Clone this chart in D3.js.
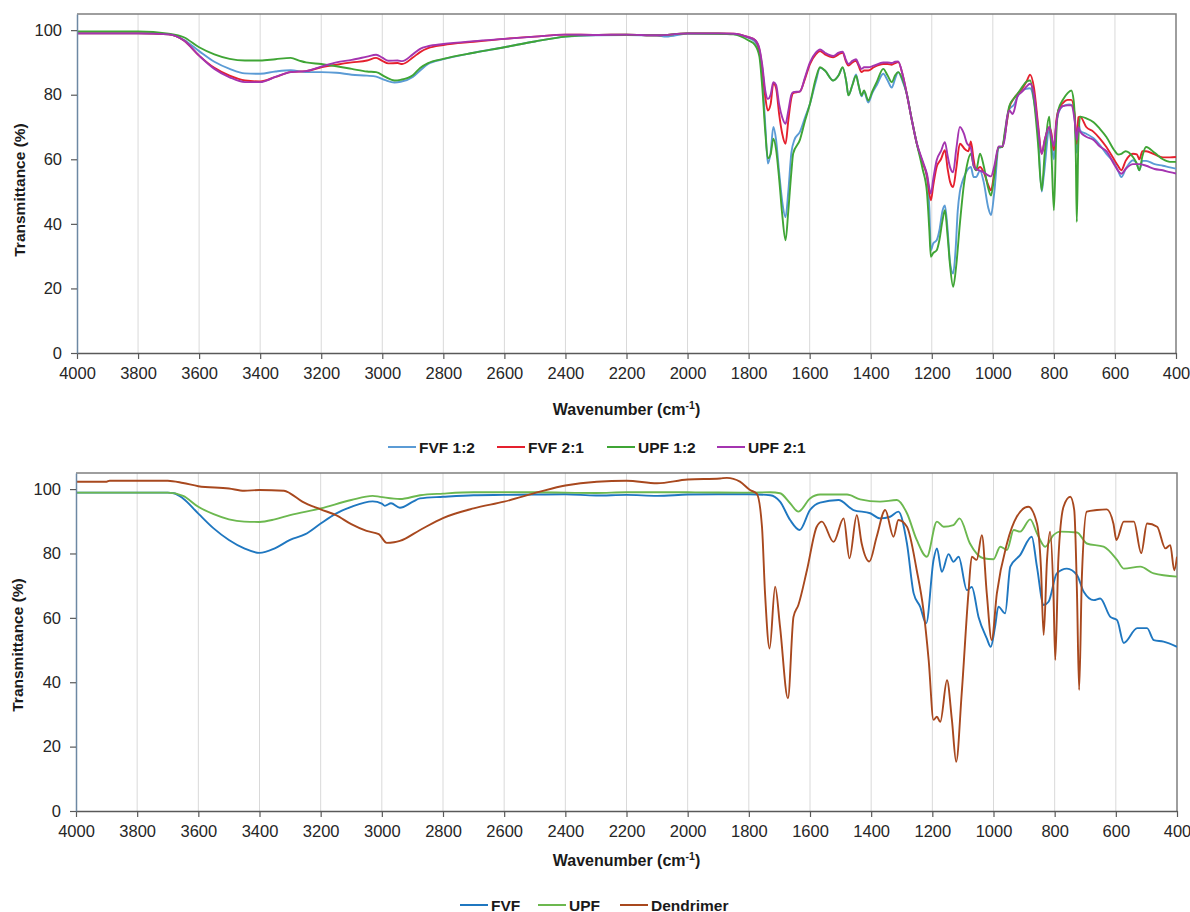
<!DOCTYPE html>
<html><head><meta charset="utf-8">
<script src="https://cdn.jsdelivr.net/npm/d3@7"></script>
<style>body{margin:0;background:#fff;} svg{display:block;font-family:"Liberation Sans",Arial,Helvetica,sans-serif;}</style>
</head><body>
<svg id="chart" width="1190" height="912"></svg>
<script>
// ---------- data ----------
const xTicks = [4000,3800,3600,3400,3200,3000,2800,2600,2400,2200,2000,1800,1600,1400,1200,1000,800,600,400];
const yTicks = [0,20,40,60,80,100];
const topLabels = ["FVF 1:2","FVF 2:1","UPF 1:2","UPF 2:1"];
const bottomLabels = ["FVF","UPF","Dendrimer"];

// Top panel: [wavenumber, transmittance]
const fvf12 = [[4000,99.0],[3900,99.0],[3800,99.0],[3700,98.7],[3650,97],[3600,93.5],[3550,90.2],[3500,88.0],[3450,86.6],[3400,86.5],[3350,87.2],[3300,87.6],[3250,87.0],[3200,87.0],[3150,86.8],[3100,86.2],[3050,85.9],[3020,85.6],[2990,84.5],[2960,83.8],[2940,84.0],[2900,85.5],[2876,87.5],[2850,89.5],[2800,91.0],[2700,93.0],[2600,94.7],[2500,96.5],[2400,98.0],[2300,98.4],[2200,98.5],[2100,98.3],[2070,98.0],[2000,98.9],[1900,98.9],[1850,98.8],[1800,97.6],[1780,96.5],[1765,93.5],[1755,85],[1745,70],[1737,58.7],[1728,62],[1719,70],[1710,66],[1700,56],[1690,47],[1679,42.1],[1670,50],[1660,62],[1650,66],[1632,68.5],[1615,73],[1599,77.2],[1580,84],[1566,88.3],[1550,87.5],[1523,84.4],[1505,86],[1492,88.3],[1480,84],[1473,79.8],[1460,83],[1448,86.3],[1440,83],[1430,79.5],[1422,81],[1408,77.6],[1395,80.5],[1380,83],[1359,86.5],[1345,84.5],[1331,82.2],[1320,85],[1310,87],[1295,84],[1282,80.3],[1265,72],[1249,64.8],[1230,59],[1216,54.5],[1208,45],[1203,31.8],[1195,34],[1184,34.9],[1175,38],[1165,44],[1157,45.7],[1148,38],[1140,28],[1130,24.6],[1122,32],[1115,44],[1108,50],[1100,53],[1090,55.5],[1072,57.6],[1063,54.5],[1055,54.5],[1042,56.5],[1030,53],[1015,45],[1006,42.7],[995,50],[981,63.5],[969,63.8],[960,68],[946,75.5],[930,77],[919,79.5],[903,81.5],[878,82],[865,78],[852,68],[840,50],[833,55],[815,69],[808,65],[800,60],[792,71],[786,74],[770,76.5],[750,77],[740,76.7],[732,73],[725,62],[720,72],[714,68.9],[694,67.9],[670,66.5],[650,64.5],[628,61.7],[600,58.5],[590,56.5],[579,54.5],[565,57],[541,59.7],[528,58.5],[520,56.6],[510,59.5],[498,59.5],[470,58.5],[443,58],[420,57.5],[400,57.1]];

const fvf21 = [[4000,99.0],[3800,99.0],[3700,98.7],[3650,96.8],[3600,92.1],[3550,88.3],[3500,85.9],[3450,84.4],[3400,84.1],[3350,85.5],[3300,87.0],[3250,87.3],[3200,88.5],[3150,89.3],[3100,90.0],[3050,90.6],[3020,91.4],[3000,90.5],[2980,89.7],[2950,89.8],[2935,89.5],[2900,91.5],[2876,93.2],[2850,94.4],[2800,95.4],[2700,96.4],[2600,97.3],[2500,98.0],[2400,98.6],[2300,98.5],[2200,98.6],[2100,98.4],[2000,99.0],[1900,99.0],[1850,98.9],[1800,97.8],[1780,97],[1765,94],[1755,88],[1745,79],[1737,75.1],[1728,77],[1719,83.5],[1710,82],[1700,74],[1690,68],[1679,64.8],[1670,72],[1660,79],[1654,80.5],[1632,81],[1615,85],[1599,89.5],[1580,92.5],[1566,93.5],[1550,92.5],[1523,91.6],[1505,92.5],[1492,93.0],[1480,90],[1473,89],[1460,90],[1448,90.5],[1440,89],[1430,87],[1422,87.5],[1408,87.5],[1390,88.5],[1359,89.5],[1345,89.5],[1331,89.3],[1320,89.8],[1310,90.1],[1295,86],[1282,80.3],[1265,72],[1249,64.8],[1230,59],[1216,55],[1203,47.3],[1195,52],[1184,57.6],[1170,60],[1157,62.8],[1148,57],[1140,53],[1130,51.4],[1120,57],[1108,64.8],[1090,63],[1080,62.5],[1072,65.5],[1063,60],[1055,56.6],[1042,57.6],[1030,56],[1015,52],[1006,50.4],[995,56],[981,63.8],[969,63.8],[960,68],[946,76],[930,79],[919,80.3],[903,82],[890,84],[878,86.2],[865,82],[852,71],[840,61.7],[830,66],[815,70],[808,68],[800,62.8],[792,72],[786,75],[770,77.5],[755,78.4],[743,78.4],[732,74],[725,64.8],[720,73],[714,73.2],[694,70],[670,68.5],[650,66.5],[628,63.8],[600,59.5],[590,58],[579,56.6],[565,59.5],[541,61.7],[528,61.5],[520,60],[510,62.5],[498,62.5],[470,61.5],[443,60.6],[420,60.6],[400,60.7]];

const upf12 = [[4000,99.6],[3800,99.6],[3700,98.9],[3650,97.8],[3600,94.7],[3550,92.5],[3500,91.1],[3450,90.6],[3400,90.6],[3350,91.0],[3300,91.4],[3270,90.5],[3250,90.0],[3200,89.5],[3150,88.8],[3100,88.0],[3050,87.2],[3020,87.0],[2990,85.5],[2960,84.4],[2940,84.6],[2900,86],[2876,88.3],[2850,89.8],[2800,91.1],[2700,93],[2600,94.7],[2500,96.5],[2400,98.0],[2300,98.5],[2200,98.6],[2100,98.4],[2000,99.0],[1900,98.9],[1850,98.7],[1800,96.8],[1780,95.5],[1765,92],[1755,82],[1745,68],[1737,60.3],[1728,61.5],[1719,66.4],[1710,63],[1700,54],[1690,43],[1679,34.9],[1670,44],[1660,56],[1654,61.8],[1632,66],[1615,72],[1599,77.2],[1580,85],[1566,88.5],[1550,87.5],[1523,84.4],[1505,86],[1492,88.5],[1480,84],[1473,79.8],[1460,83],[1448,85.9],[1440,83],[1430,79.8],[1422,81.3],[1408,78.2],[1395,81],[1380,84],[1359,88.0],[1345,86],[1331,83.9],[1320,86],[1310,87.0],[1295,84.5],[1282,80.3],[1265,72],[1249,64.8],[1230,57],[1216,50],[1208,38],[1203,29.8],[1195,31],[1184,31.8],[1175,35],[1165,41],[1157,44.2],[1148,36],[1140,27],[1130,20.5],[1120,27],[1108,40],[1095,52],[1085,58],[1072,61.7],[1063,58],[1055,56.6],[1042,61.7],[1030,58],[1015,51],[1006,48.8],[995,55],[981,63.8],[969,63.8],[960,69],[946,76.5],[930,79],[919,80.3],[903,82.5],[890,84],[878,84.4],[865,78],[852,65],[840,50.4],[830,62],[815,73.2],[808,62],[800,44.2],[792,68],[786,75.1],[770,78.5],[755,80.5],[743,81.3],[735,78],[728,60],[725,40.6],[720,65],[714,73.2],[694,72.7],[670,71.5],[650,69.5],[628,66.9],[600,62.5],[590,61.5],[579,61.7],[565,62.5],[541,60.7],[530,59],[520,56.6],[510,61],[498,63.8],[470,62],[443,60],[420,59.2],[400,59.2]];

const upf21 = [[4000,99.0],[3800,99.0],[3700,98.7],[3650,96.8],[3600,92.1],[3550,88.0],[3500,85.4],[3450,83.9],[3400,83.9],[3350,85.5],[3300,87.0],[3250,87.3],[3200,88.7],[3150,90.0],[3100,90.8],[3050,91.8],[3020,92.4],[3000,91.5],[2980,90.5],[2950,90.6],[2935,90.4],[2900,92.5],[2876,94.2],[2850,95.0],[2800,95.7],[2700,96.6],[2600,97.3],[2500,98.0],[2400,98.6],[2300,98.5],[2200,98.6],[2100,98.4],[2000,99.0],[1900,99.0],[1850,98.9],[1800,97.8],[1780,97],[1765,94.5],[1755,89],[1745,81],[1737,78.7],[1728,80],[1719,83.9],[1710,83],[1700,77],[1690,73],[1679,71.0],[1670,75],[1660,80],[1654,80.8],[1632,81],[1615,85.5],[1599,90],[1580,93],[1566,94],[1550,93],[1523,92],[1505,93],[1492,93.3],[1480,90.5],[1473,89.5],[1460,90.5],[1448,91],[1440,89.5],[1430,88],[1422,88.5],[1408,88.5],[1390,89],[1359,90],[1345,90],[1331,89.8],[1320,90.2],[1310,90.3],[1295,86],[1282,80.3],[1265,72],[1249,65],[1230,59.5],[1216,55.5],[1203,49.4],[1195,54],[1184,59.7],[1170,62.5],[1157,65.3],[1148,61],[1140,57.5],[1130,56],[1120,63],[1108,70.0],[1095,68],[1085,65],[1072,63.5],[1063,58],[1055,57],[1042,56.5],[1030,56],[1015,55],[1006,54.7],[995,58],[981,64],[969,64],[960,67],[955,72],[946,75.1],[935,74],[930,75.1],[919,79.5],[903,81],[890,82.5],[878,83.4],[865,80],[852,70],[840,61.7],[830,66],[815,70],[808,67],[800,64],[792,71],[786,74.5],[770,76.5],[755,76.7],[743,76.7],[732,72],[725,66],[720,70],[714,68.5],[694,67],[670,66],[650,64],[628,62.5],[600,58],[590,56.5],[579,55.5],[565,57],[541,58.5],[520,58.5],[498,58],[470,57],[443,56.6],[420,56],[400,55.6]];

// Bottom panel
const fvf = [[4000,98.9],[3900,98.9],[3800,98.9],[3700,98.9],[3680,98.7],[3650,97.1],[3600,92.4],[3550,87.8],[3500,84.2],[3450,81.6],[3400,80.2],[3350,81.6],[3300,84.2],[3250,86.0],[3200,89.3],[3150,92.4],[3100,94.5],[3030,96.2],[3000,95.5],[2990,94.8],[2970,95.6],[2941,94.2],[2900,96],[2875,97.1],[2800,97.6],[2700,98.1],[2600,98.2],[2500,98.3],[2400,98.4],[2300,98.0],[2200,98.2],[2100,97.9],[2000,98.3],[1900,98.4],[1800,98.4],[1730,98.1],[1698,96.1],[1665,90.4],[1634,87.3],[1600,93.5],[1567,95.8],[1507,96.6],[1458,93.5],[1403,92.5],[1371,90.9],[1338,91.4],[1311,93],[1283,83.1],[1261,67.6],[1240,63.5],[1220,58.3],[1196,78],[1185,81.6],[1169,74.3],[1147,79.8],[1131,77.4],[1114,79],[1087,68.6],[1071,69.6],[1049,60.3],[1022,53.6],[1009,51],[995,57.2],[984,63.5],[962,61.4],[945,75.9],[913,79.5],[875,85.2],[858,75.9],[836,64],[820,65],[793,73.8],[760,75.3],[727,73.3],[705,68.1],[672,65.5],[651,66],[618,60.3],[596,59.3],[574,52.2],[530,56.8],[498,56.8],[476,53.1],[444,52.6],[400,51]];

const upf = [[4000,98.9],[3700,98.9],[3650,97.9],[3600,94.5],[3550,92.2],[3500,90.6],[3450,89.9],[3400,89.8],[3350,90.6],[3300,91.9],[3200,94.0],[3100,96.6],[3030,97.9],[3006,97.6],[2941,96.9],[2875,98.1],[2800,98.6],[2700,99],[2500,99],[2300,98.8],[2200,99],[2000,99],[1800,98.9],[1730,99],[1698,98.7],[1665,95.6],[1638,93],[1600,97.1],[1567,98.3],[1479,98.3],[1436,96.8],[1371,96.1],[1316,96.6],[1283,92.5],[1251,84.2],[1218,79],[1185,89.9],[1163,88.3],[1131,88.8],[1111,90.9],[1077,83.1],[1033,78.5],[1000,78.2],[978,82.1],[956,81.1],[934,87.3],[913,86.8],[880,90.6],[858,86.3],[831,82.1],[804,85.7],[782,86.8],[727,86.5],[695,83.1],[640,82.1],[596,78],[574,75.3],[520,75.9],[476,73.8],[400,72.8]];

const dendrimer = [[4000,102.3],[3900,102.3],[3890,102.6],[3700,102.6],[3650,101.9],[3600,100.9],[3500,100.2],[3450,99.5],[3400,99.7],[3320,99.5],[3300,98.7],[3260,96.1],[3200,93.7],[3150,91.9],[3100,89.1],[3050,87],[3010,86],[2984,83.3],[2960,83.5],[2941,83.9],[2875,87.3],[2800,91],[2700,94],[2600,96.1],[2483,99.2],[2400,101.1],[2297,102.3],[2200,102.6],[2100,101.8],[2000,103],[1894,103.3],[1872,103.5],[1829,102.3],[1796,99.7],[1774,98.6],[1757,88.3],[1747,67.6],[1732,50.5],[1714,69.7],[1698,57.3],[1672,35],[1654,60.3],[1638,64],[1610,74.8],[1578,88.3],[1561,89.9],[1523,83.6],[1490,90.9],[1471,78.5],[1447,91.9],[1431,83.1],[1406,77.5],[1382,85.2],[1354,93.5],[1327,85.2],[1311,90.4],[1283,88.3],[1251,74.8],[1229,62.4],[1212,46.9],[1196,28.3],[1185,29.3],[1174,27.7],[1152,40.6],[1136,28.3],[1122,15.3],[1104,36.5],[1082,67.6],[1071,79],[1055,78],[1038,85.7],[1022,67.6],[1006,53.1],[989,67.6],[956,83.1],[924,91.4],[886,94.5],[858,89.3],[845,75.9],[836,54.7],[825,78],[815,86.8],[804,67.6],[798,46.9],[788,78],[771,94.5],[749,97.6],[736,93.5],[727,67.6],[720,37.6],[711,72.8],[695,93],[662,93.5],[630,93.7],[608,89.3],[598,84.2],[574,89.9],[541,89.9],[517,80.1],[498,89.3],[465,88.3],[438,81.6],[422,82.6],[409,74.8],[400,79]];

// ---------- drawing ----------
const svg = d3.select("#chart");
svg.append("rect").attr("width",1190).attr("height",912).attr("fill","#fff");
const FONT = '"Liberation Sans",Arial,sans-serif';

function panel(cfg){
  const x = d3.scaleLinear().domain([4000,400]).range([cfg.left,cfg.right]);
  const y = d3.scaleLinear().domain([0,105]).range([cfg.bottom,cfg.top]);
  const g = svg.append("g");
  g.selectAll("line.grid").data(xTicks.filter(t=>t!==4000&&t!==400)).join("line")
    .attr("x1",d=>x(d)).attr("x2",d=>x(d)).attr("y1",cfg.top).attr("y2",cfg.bottom)
    .attr("stroke","#d9d9d9").attr("stroke-width",1);
  g.append("path").attr("d",`M${cfg.left},${cfg.top}H${cfg.right}V${cfg.bottom}`)
    .attr("fill","none").attr("stroke","#7f7f7f").attr("stroke-width",1.5);
  const clipId = "clip"+cfg.id;
  svg.append("clipPath").attr("id",clipId).append("rect")
    .attr("x",cfg.left).attr("y",cfg.top).attr("width",cfg.right-cfg.left).attr("height",cfg.bottom-cfg.top);
  const line = d3.line().x(d=>x(d[0])).y(d=>y(d[1])).curve(d3.curveMonotoneX);
  const lg = g.append("g").attr("clip-path",`url(#${clipId})`);
  cfg.series.forEach(s=>{
    lg.append("path").datum(s.data).attr("d",line).attr("fill","none")
      .attr("stroke",s.color).attr("stroke-width",1.9).attr("stroke-linejoin","round");
  });
  const xa = g.append("g").attr("transform",`translate(0,${cfg.bottom})`)
    .call(d3.axisBottom(x).tickValues(xTicks).tickFormat(d3.format("d")).tickSize(6).tickSizeOuter(0).tickPadding(8));
  xa.select(".domain").attr("stroke","#595959").attr("stroke-width",1.5);
  xa.selectAll(".tick line").attr("stroke","#595959").attr("stroke-width",1.2);
  xa.selectAll("text").attr("font-size","16.5px").attr("fill","#262626").attr("font-family",FONT);
  const ya = g.append("g").attr("transform",`translate(${cfg.left},0)`)
    .call(d3.axisLeft(y).tickValues(yTicks).tickSize(6).tickSizeOuter(0).tickPadding(9));
  ya.select(".domain").attr("stroke","#6d88a3").attr("stroke-width",1.5);
  ya.selectAll(".tick line").attr("stroke","#595959").attr("stroke-width",1.2);
  ya.selectAll("text").attr("font-size","16.5px").attr("fill","#262626").attr("font-family",FONT);
  const xt = g.append("text").attr("x",(cfg.left+cfg.right)/2).attr("y",cfg.xTitleY)
    .attr("text-anchor","middle").attr("font-weight","bold").attr("font-size","16px").attr("fill","#1a1a1a");
  xt.append("tspan").text("Wavenumber (cm");
  xt.append("tspan").text("-1").attr("font-size","10.5px").attr("dy","-6");
  xt.append("tspan").text(")").attr("dy","6");
  g.append("text").attr("transform",`translate(${cfg.yTitleX},${cfg.yTitleY}) rotate(-90)`)
    .attr("text-anchor","middle").attr("font-weight","bold").attr("font-size","15.5px").attr("fill","#1a1a1a")
    .text("Transmittance (%)");
  const leg = g.append("g");
  cfg.series.forEach((s,i)=>{
    const lx = cfg.legendX[i];
    leg.append("line").attr("x1",lx).attr("x2",lx+28).attr("y1",cfg.legendY).attr("y2",cfg.legendY)
      .attr("stroke",s.color).attr("stroke-width",2);
    leg.append("text").attr("x",lx+31).attr("y",cfg.legendY+5.5).attr("font-weight","bold")
      .attr("font-size","15.5px").attr("fill","#1a1a1a").text(s.label);
  });
}

panel({id:"a", left:77, right:1176, top:14, bottom:353, xTitleY:415, yTitleX:25, yTitleY:190,
  legendY:447, legendX:[388,497,607,717],
  series:[
    {label:topLabels[0], data:fvf12, color:"#5b9bd5"},
    {label:topLabels[1], data:fvf21, color:"#e5202e"},
    {label:topLabels[2], data:upf12, color:"#3fa535"},
    {label:topLabels[3], data:upf21, color:"#a434b0"}
  ]});

panel({id:"b", left:76, right:1177, top:473, bottom:811, xTitleY:866, yTitleX:23, yTitleY:645,
  legendY:905, legendX:[460,538,620],
  series:[
    {label:bottomLabels[0], data:fvf, color:"#1f77c0"},
    {label:bottomLabels[1], data:upf, color:"#6cb84f"},
    {label:bottomLabels[2], data:dendrimer, color:"#a8481e"}
  ]});
</script>
</body></html>
